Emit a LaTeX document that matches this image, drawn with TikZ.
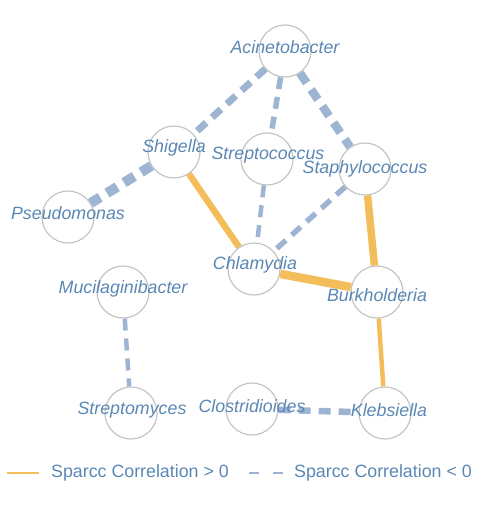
\documentclass[tikz,border=0pt]{standalone}
\usepackage{fontspec}
\setmainfont{Liberation Sans}
\usetikzlibrary{positioning}

\definecolor{taxonblue}{RGB}{90,135,180}
\definecolor{negblue}{RGB}{157,181,211}
\definecolor{posorange}{RGB}{243,190,90}
\definecolor{ringgray}{RGB}{196,196,196}

\begin{document}
\begin{tikzpicture}[x=1pt, y=-1pt,
    taxon/.style={draw=ringgray, line width=1.2pt, circle, minimum size=52pt, inner sep=0pt},
    taxlabel/.style={text=taxonblue, font=\fontsize{17.8}{20}\selectfont\itshape, inner sep=0pt},
    leglabel/.style={text=taxonblue, font=\fontsize{17.8}{20}\selectfont, inner sep=0pt, anchor=west},
    poscor/.style={draw=posorange},
    negcor/.style={draw=negblue, dash pattern=on 12pt off 8pt}]
    \useasboundingbox (0,0) rectangle (486,505);

    % taxa
    \node[taxon] (acin) at (285,51) {};
    \node[taxon] (shig) at (174,152) {};
    \node[taxon] (strc) at (267,159) {};
    \node[taxon] (stap) at (365,169) {};
    \node[taxon] (pseu) at (68,217) {};
    \node[taxon] (chla) at (254,269) {};
    \node[taxon] (muci) at (123,292) {};
    \node[taxon] (burk) at (377,292) {};
    \node[taxon] (strm) at (131,413) {};
    \node[taxon] (clos) at (252,409) {};
    \node[taxon] (kleb) at (385,413) {};

    % correlations
    \draw[negcor, line width=7pt] (acin) -- (shig);
    \draw[negcor, line width=5.5pt] (acin) -- (strc);
    \draw[negcor, line width=8.5pt] (acin) -- (stap);
    \draw[negcor, line width=10pt] (shig) -- (pseu);
    \draw[negcor, line width=4.5pt] (strc) -- (chla);
    \draw[negcor, line width=5.5pt] (stap) -- (chla);
    \draw[negcor, line width=4.5pt] (muci) -- (strm);
    \draw[negcor, line width=6.5pt] (clos) -- (kleb);
    \draw[poscor, line width=6.5pt] (shig) -- (chla);
    \draw[poscor, line width=7.5pt] (stap) -- (burk);
    \draw[poscor, line width=8.5pt] (chla) -- (burk);
    \draw[poscor, line width=4.5pt] (burk) -- (kleb);

    % names
    \node[taxlabel] (acin-t) at (285,47) {Acinetobacter};
    \node[taxlabel] (shig-t) at (174,148) {Shigella};
    \node[taxlabel] (strc-t) at (268,155) {Streptococcus};
    \node[taxlabel] (stap-t) at (365,169) {Staphylococcus};
    \node[taxlabel] (pseu-t) at (68,213) {Pseudomonas};
    \node[taxlabel] (chla-t) at (255,265) {Chlamydia};
    \node[taxlabel] (muci-t) at (123,289) {Mucilaginibacter};
    \node[taxlabel] (burk-t) at (377,295) {Burkholderia};
    \node[taxlabel] (strm-t) at (132,410) {Streptomyces};
    \node[taxlabel] (clos-t) at (252,406) {Clostridioides};
    \node[taxlabel] (kleb-t) at (389,410) {Klebsiella};

    % legend
    \coordinate (pos-a) at (7,473);
    \coordinate (pos-b) at (39,473);
    \coordinate (neg-a) at (249,473);
    \coordinate (neg-b) at (283,473);
    \draw[poscor, line width=2pt] (pos-a) -- (pos-b);
    \draw[draw=negblue, line width=2pt, dash pattern=on 10pt off 14pt] (neg-a) -- (neg-b);
    \node[leglabel] (pos-t) at (51,473) {Sparcc Correlation > 0};
    \node[leglabel] (neg-t) at (294,473) {Sparcc Correlation < 0};
\end{tikzpicture}
\end{document}
